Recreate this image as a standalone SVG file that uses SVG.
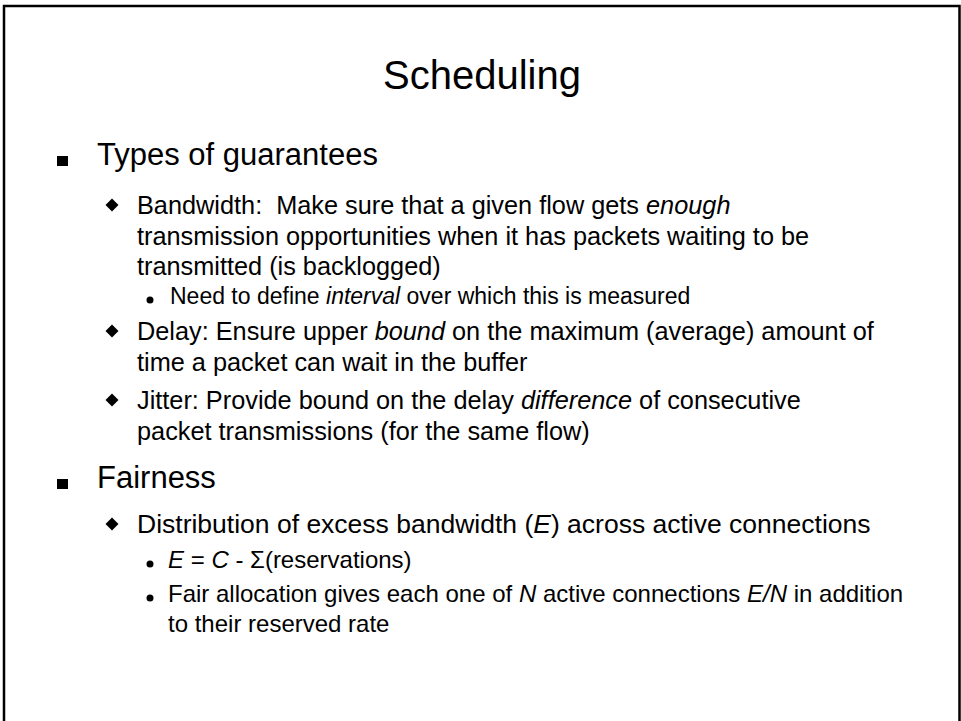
<svg xmlns="http://www.w3.org/2000/svg" width="961" height="721" viewBox="0 0 961 721">
  <style>
    text { font-family: "Liberation Sans", Arial, sans-serif; fill: #000; }
    .title { font-size: 40px; text-anchor: middle; }
    .l1 { font-size: 31px; }
    .l2 { font-size: 25.3px; }
    .l3 { font-size: 23px; }
    .l2b { font-size: 26.5px; }
    .l3b { font-size: 24px; }
    .it { font-style: italic; }
    .bullet { fill: #000; }
  </style>
  <defs>
    <rect id="sq" x="-5.5" y="-5" width="11" height="10"/>
    <path id="dia" d="M0,-6.5 L6.5,0 L0,6.5 L-6.5,0 Z"/>
    <circle id="dot" r="3.5"/>
  </defs>

  <!-- slide frame (open at the bottom edge) -->
  <rect x="4" y="6" width="955.5" height="730" fill="#fff" stroke="#000" stroke-width="2.5"/>

  <text class="title" x="482" y="89">Scheduling</text>

  <g id="guarantees">
    <use href="#sq" class="bullet" x="62.5" y="161"/>
    <text class="l1" x="97" y="165">Types of guarantees</text>

    <g id="bandwidth">
      <use href="#dia" class="bullet" x="112" y="205"/>
      <text class="l2" x="137" y="214" xml:space="preserve">Bandwidth:  Make sure that a given flow gets <tspan class="it">enough</tspan></text>
      <text class="l2" x="137" y="245">transmission opportunities when it has packets waiting to be</text>
      <text class="l2" x="137" y="275">transmitted (is backlogged)</text>
      <use href="#dot" class="bullet" x="150" y="300"/>
      <text class="l3" x="170" y="304">Need to define <tspan class="it">interval</tspan> over which this is measured</text>
    </g>

    <g id="delay">
      <use href="#dia" class="bullet" x="112" y="331"/>
      <text class="l2" x="137" y="340">Delay: Ensure upper <tspan class="it">bound</tspan> on the maximum (average) amount of</text>
      <text class="l2" x="137" y="371">time a packet can wait in the buffer</text>
    </g>

    <g id="jitter">
      <use href="#dia" class="bullet" x="112" y="400"/>
      <text class="l2" x="137" y="409">Jitter: Provide bound on the delay <tspan class="it">difference</tspan> of consecutive</text>
      <text class="l2" x="137" y="440">packet transmissions (for the same flow)</text>
    </g>
  </g>

  <g id="fairness">
    <use href="#sq" class="bullet" x="62.5" y="484"/>
    <text class="l1" x="97" y="488">Fairness</text>

    <g id="excess">
      <use href="#dia" class="bullet" x="112" y="524"/>
      <text class="l2b" x="137" y="533">Distribution of excess bandwidth (<tspan class="it">E</tspan>) across active connections</text>
      <use href="#dot" class="bullet" x="150" y="564"/>
      <text class="l3b" x="168" y="568"><tspan class="it">E</tspan> = <tspan class="it">C</tspan> - Σ(reservations)</text>
      <use href="#dot" class="bullet" x="150" y="598"/>
      <text class="l3b" x="168" y="602">Fair allocation gives each one of <tspan class="it">N</tspan> active connections <tspan class="it">E/N</tspan> in addition</text>
      <text class="l3b" x="168" y="632">to their reserved rate</text>
    </g>
  </g>
</svg>
